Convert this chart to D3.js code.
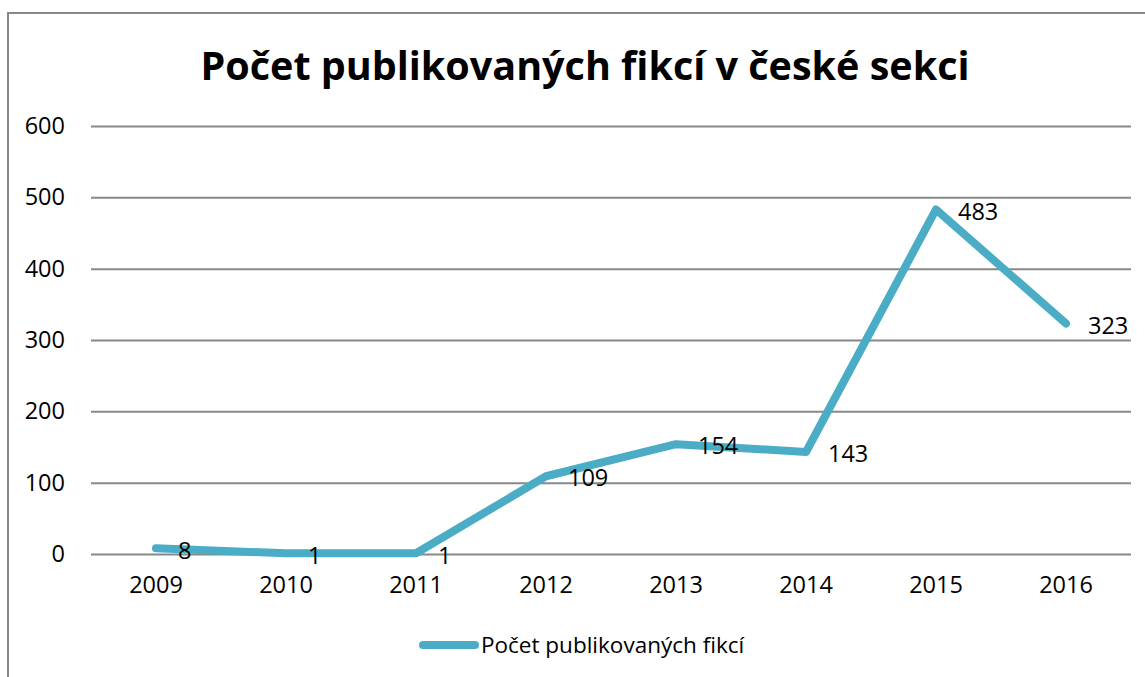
<!DOCTYPE html>
<html><head><meta charset="utf-8">
<script src="https://cdn.jsdelivr.net/npm/d3@7"></script>
<style>body{margin:0;background:#fff}svg{display:block}</style>
</head><body>
<script>
const categories = ["2009","2010","2011","2012","2013","2014","2015","2016"];
const values = [8,1,1,109,154,143,483,323];
const yTicks = [0,100,200,300,400,500,600];
const title = "Počet publikovaných fikcí v české sekci";
const seriesName = "Počet publikovaných fikcí";

const W=1145,H=677, font="'Open Sans', sans-serif";
const svg=d3.select("body").append("svg").attr("width",W).attr("height",H);
svg.append("rect").attr("x",8).attr("y",13).attr("width",1150).attr("height",700)
  .attr("fill","#fff").attr("stroke","#888").attr("stroke-width",2);

const x=d3.scaleBand().domain(categories).range([91,1131]);
const y=d3.scaleLinear().domain([0,600]).range([554,126]);

svg.append("text").attr("x",585).attr("y",80).attr("text-anchor","middle")
  .attr("font-family",font).attr("font-weight","bold").attr("font-size",39.5).text(title);

const yAxis=svg.append("g").attr("transform","translate(91,0)")
  .call(d3.axisLeft(y).tickValues(yTicks).tickSize(-1040).tickPadding(26));
yAxis.select(".domain").remove();
yAxis.selectAll("line").attr("stroke","#888").attr("stroke-width",2);
yAxis.selectAll("text").attr("font-family",font).attr("font-size",23.5).attr("fill","#000");

const xAxis=svg.append("g").attr("transform","translate(0,554)")
  .call(d3.axisBottom(x).tickSize(0).tickPadding(22));
xAxis.select(".domain").remove();
xAxis.selectAll("text").attr("font-family",font).attr("font-size",23.5).attr("fill","#000");

const cx=d=>x(d)+x.bandwidth()/2;
svg.append("path").datum(values)
  .attr("d",d3.line().x((d,i)=>cx(categories[i])).y(d=>y(d)))
  .attr("fill","none").attr("stroke","#4BACC6").attr("stroke-width",8)
  .attr("stroke-linecap","round").attr("stroke-linejoin","round");

svg.selectAll("text.lbl").data(values).enter().append("text").attr("class","lbl")
  .attr("x",(d,i)=>cx(categories[i])+22).attr("y",d=>y(d)+2).attr("dy","0.35em")
  .attr("font-family",font).attr("font-size",23.5).text(d=>d);

svg.append("line").attr("x1",423).attr("x2",475).attr("y1",645).attr("y2",645)
  .attr("stroke","#4BACC6").attr("stroke-width",8).attr("stroke-linecap","round");
svg.append("text").attr("x",481).attr("y",645).attr("dy","0.35em")
  .attr("font-family",font).attr("font-size",22.5).text(seriesName);
</script>
</body></html>
